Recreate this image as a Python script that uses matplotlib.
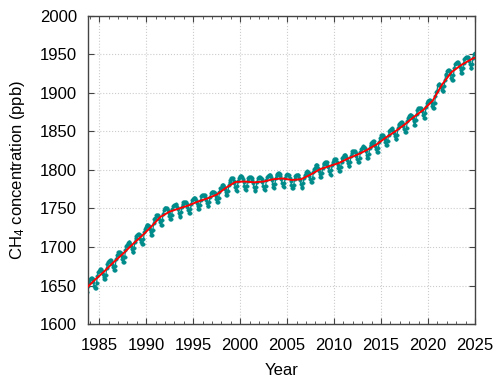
import numpy as np
import matplotlib
matplotlib.use("Agg")
import matplotlib.pyplot as plt
from matplotlib.ticker import MultipleLocator

plt.rcParams['font.family'] = ['Liberation Sans', 'DejaVu Sans']
plt.rcParams['mathtext.fontset'] = 'custom'
plt.rcParams['mathtext.rm'] = 'Liberation Sans'
plt.rcParams['mathtext.it'] = 'Liberation Sans:italic'

# monthly CH4 (ppb), one row per year, Jan..Dec (1983 starts in July)
ch4_1983 = [1635, 1635, 1641, 1650, 1655, 1657]
years = list(range(1984, 2025))
ch4_monthly = [
    [1659, 1660, 1660, 1658, 1654, 1650, 1647, 1647, 1653, 1662, 1667, 1669],  # 1984
    [1670, 1671, 1671, 1669, 1665, 1661, 1658, 1658, 1664, 1673, 1678, 1680],
    [1682, 1683, 1683, 1681, 1678, 1674, 1670, 1670, 1676, 1684, 1689, 1691],
    [1693, 1694, 1694, 1692, 1688, 1684, 1681, 1681, 1687, 1696, 1701, 1703],
    [1705, 1706, 1706, 1704, 1701, 1697, 1693, 1693, 1699, 1707, 1712, 1714],
    [1716, 1717, 1717, 1715, 1711, 1707, 1704, 1704, 1710, 1719, 1724, 1726],  # 1989
    [1728, 1729, 1729, 1727, 1723, 1719, 1716, 1716, 1722, 1731, 1736, 1738],
    [1741, 1742, 1742, 1740, 1737, 1733, 1729, 1729, 1735, 1743, 1748, 1750],
    [1750, 1751, 1750, 1748, 1744, 1740, 1736, 1736, 1741, 1749, 1753, 1755],
    [1755, 1756, 1755, 1752, 1749, 1744, 1740, 1739, 1745, 1752, 1756, 1758],
    [1759, 1759, 1759, 1756, 1752, 1748, 1744, 1744, 1749, 1756, 1761, 1762],  # 1994
    [1764, 1764, 1764, 1761, 1757, 1753, 1749, 1749, 1754, 1761, 1766, 1767],
    [1768, 1768, 1768, 1765, 1761, 1757, 1753, 1753, 1758, 1765, 1770, 1771],
    [1772, 1772, 1772, 1770, 1766, 1762, 1758, 1758, 1763, 1771, 1776, 1777],
    [1780, 1781, 1781, 1778, 1775, 1771, 1767, 1767, 1773, 1780, 1785, 1787],
    [1789, 1790, 1789, 1786, 1783, 1778, 1774, 1773, 1779, 1786, 1790, 1792],  # 1999
    [1792, 1792, 1791, 1788, 1784, 1779, 1775, 1774, 1779, 1786, 1790, 1791],
    [1791, 1791, 1790, 1787, 1783, 1778, 1774, 1773, 1778, 1785, 1789, 1790],
    [1791, 1791, 1790, 1788, 1784, 1779, 1775, 1774, 1779, 1787, 1791, 1792],
    [1794, 1794, 1793, 1791, 1787, 1782, 1778, 1777, 1782, 1790, 1794, 1795],
    [1796, 1796, 1795, 1792, 1788, 1783, 1779, 1778, 1783, 1790, 1794, 1795],  # 2004
    [1794, 1794, 1793, 1790, 1786, 1781, 1777, 1776, 1781, 1788, 1792, 1793],
    [1794, 1794, 1793, 1790, 1787, 1782, 1778, 1777, 1783, 1790, 1794, 1795],
    [1798, 1799, 1798, 1796, 1792, 1788, 1784, 1784, 1789, 1797, 1801, 1803],
    [1806, 1806, 1806, 1803, 1799, 1795, 1791, 1791, 1796, 1803, 1808, 1809],
    [1810, 1811, 1810, 1807, 1804, 1799, 1795, 1794, 1800, 1807, 1811, 1813],  # 2009
    [1814, 1814, 1814, 1811, 1807, 1803, 1799, 1799, 1804, 1811, 1816, 1817],
    [1819, 1820, 1819, 1817, 1813, 1809, 1805, 1805, 1810, 1818, 1822, 1824],
    [1824, 1825, 1824, 1822, 1818, 1814, 1810, 1810, 1815, 1823, 1827, 1829],
    [1830, 1831, 1830, 1828, 1824, 1820, 1816, 1816, 1821, 1829, 1833, 1835],
    [1836, 1837, 1837, 1834, 1831, 1827, 1823, 1823, 1829, 1836, 1841, 1843],  # 2014
    [1845, 1846, 1846, 1843, 1840, 1836, 1832, 1832, 1838, 1845, 1850, 1852],
    [1853, 1854, 1853, 1851, 1848, 1844, 1840, 1840, 1846, 1854, 1858, 1860],
    [1861, 1862, 1862, 1860, 1857, 1853, 1849, 1849, 1855, 1863, 1868, 1870],
    [1871, 1872, 1872, 1870, 1867, 1863, 1859, 1859, 1865, 1873, 1878, 1880],
    [1880, 1881, 1881, 1879, 1876, 1872, 1868, 1868, 1874, 1882, 1887, 1889],  # 2019
    [1890, 1891, 1891, 1890, 1887, 1883, 1881, 1881, 1887, 1896, 1901, 1903],
    [1910, 1911, 1912, 1910, 1908, 1904, 1902, 1902, 1909, 1917, 1923, 1925],
    [1929, 1930, 1930, 1928, 1924, 1920, 1917, 1917, 1923, 1932, 1937, 1939],
    [1939, 1940, 1940, 1937, 1934, 1930, 1926, 1926, 1932, 1939, 1944, 1946],
    [1947, 1947, 1947, 1945, 1941, 1937, 1933, 1933, 1938, 1946, 1951, 1952],  # 2024
]

# deseasonalised trend (ppb) at mid-year
trend_years = [1983.5 + i for i in range(42)] + [2024.9]
trend_vals = [1645, 1657, 1668, 1680, 1691, 1703, 1714, 1726, 1739, 1746,
              1750, 1754, 1759, 1763, 1768, 1777, 1784.5, 1785, 1784, 1785,
              1788, 1789, 1787, 1788, 1794, 1801, 1805, 1809, 1815, 1820,
              1826, 1833, 1842, 1850, 1859, 1869, 1878, 1890, 1911, 1927,
              1936, 1943, 1945.5]

# build the monthly time axis
t = [1983 + (m - 0.5) / 12 for m in range(7, 13)]
vals = list(ch4_1983)
for yr, row in zip(years, ch4_monthly):
    t += [yr + (m - 0.5) / 12 for m in range(1, 13)]
    vals += row

fig = plt.figure(figsize=(5, 3.79), dpi=100)
ax = fig.add_axes([0.176, 0.145, 0.774, 0.813])

ax.plot(t, vals, color='#008b8b', lw=0.9, marker='o', ms=2.5,
        mec='#008b8b', mfc='#008b8b', mew=0.3, zorder=2)
ax.plot(trend_years, trend_vals, color='#ff0000', lw=1.4, zorder=3)

ax.set_xlim(1983.8, 2025)
ax.set_ylim(1600, 2000)
ax.xaxis.set_major_locator(MultipleLocator(5))
ax.xaxis.set_minor_locator(MultipleLocator(1))
ax.yaxis.set_major_locator(MultipleLocator(50))

ax.tick_params(axis='both', which='major', direction='in', length=4,
               width=0.8, labelsize=12, top=True, right=True, color='#444444')
ax.tick_params(axis='x', which='minor', direction='in', length=2,
               width=0.6, top=True, color='#444444')
ax.tick_params(axis='x', pad=10)
ax.tick_params(axis='y', pad=8)

ax.grid(True, which='major', color='#cccccc', linestyle=':', linewidth=0.8)
ax.set_axisbelow(True)
for s in ax.spines.values():
    s.set_color('#444444')
    s.set_linewidth(1.0)

ax.set_xlabel('Year', fontsize=12, labelpad=7)
ax.set_ylabel('CH$_4$ concentration (ppb)', fontsize=12, labelpad=9)

plt.savefig('out.png', dpi=100)
plt.close()
